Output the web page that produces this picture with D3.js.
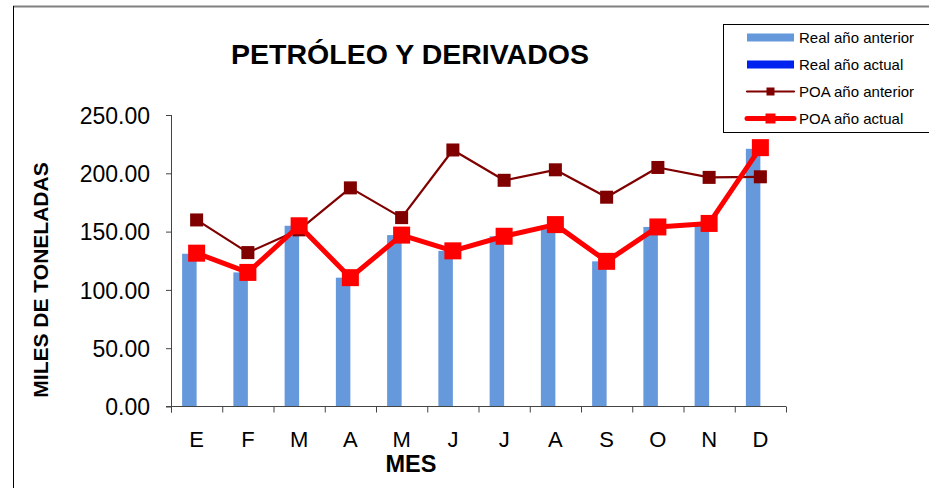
<!DOCTYPE html>
<html>
<head>
<meta charset="utf-8">
<script src="https://cdn.jsdelivr.net/npm/d3@7"></script>
<style>
  body { margin: 0; background: #fff; }
  text { font-family: "Liberation Sans", Arial, sans-serif; fill: #000; }
</style>
</head>
<body>
<svg id="chart"></svg>
<script>
var meses = ['E', 'F', 'M', 'A', 'M', 'J', 'J', 'A', 'S', 'O', 'N', 'D'];
var realAnterior = [131, 115, 155, 110.5, 147, 133.5, 146, 152, 124.5, 154, 155, 221];
var realActual = [null, null, null, null, null, null, null, null, null, null, null, null];
var poaAnterior = [160, 132, 151.5, 187.5, 162, 220, 194, 203, 179.5, 205, 196.5, 197];
var poaActual = [131.5, 115, 155, 110.5, 147, 133.5, 146, 156, 124.5, 154, 157, 222];
var yTicks = [0, 50, 100, 150, 200, 250];
var legendNames = ['Real año anterior', 'Real año actual', 'POA año anterior', 'POA año actual'];

var W = 929, H = 488;
var pLeft = 171, pRight = 786, pTop = 115, pBottom = 406.5;

var svg = d3.select('#chart').attr('width', W).attr('height', H);

// outer frame
svg.append('line').attr('x1', 13).attr('x2', W).attr('y1', 6.5).attr('y2', 6.5)
   .attr('stroke', '#808080').attr('stroke-width', 2);
svg.append('line').attr('x1', 13.5).attr('x2', 13.5).attr('y1', 6).attr('y2', H)
   .attr('stroke', '#000').attr('stroke-width', 1);

var idx = d3.range(meses.length);
var x = d3.scaleBand().domain(idx).range([pLeft, pRight]);
var bw = x.bandwidth();
var x1 = d3.scaleBand().domain(['anterior', 'actual']).range([bw / 2 - 14.5, bw / 2 + 14.5]);
var y = d3.scaleLinear().domain([0, 250]).range([pBottom, pTop]);

// bars
svg.append('g').selectAll('rect')
   .data(realAnterior)
   .enter()
   .append('rect')
     .attr('x', function(d, i){ return x(i) + x1('anterior') })
     .attr('width', x1.bandwidth())
     .attr('y', function(d){ return y(d) })
     .attr('height', function(d){ return y(0) - y(d) })
     .attr('fill', '#6699DB');

svg.append('g').selectAll('rect')
   .data(realActual.filter(function(d){ return d != null }))
   .enter()
   .append('rect')
     .attr('fill', '#0022EE');

// axes
var yAxis = svg.append('g')
   .attr('transform', 'translate(' + pLeft + ',0)')
   .call(d3.axisLeft(y).tickValues(yTicks).tickFormat(d3.format('.2f')).tickSize(5).tickPadding(16));
yAxis.select('.domain').attr('stroke', '#444').attr('d', 'M0.5,' + pTop + 'V' + (pBottom + 6));
yAxis.selectAll('.tick line').attr('stroke', '#444');
yAxis.selectAll('.tick text').style('font-size', '23px').attr('dy', '0.36em');

var xAxis = svg.append('g').attr('transform', 'translate(0,' + pBottom + ')');
xAxis.append('line').attr('x1', pLeft - 5).attr('x2', pRight).attr('stroke', '#444');
xAxis.selectAll('line.tk')
   .data(idx.concat([meses.length]))
   .enter()
   .append('line')
     .attr('class', 'tk')
     .attr('x1', function(i){ return (i < meses.length ? x(i) : pRight) + 0.5 })
     .attr('x2', function(i){ return (i < meses.length ? x(i) : pRight) + 0.5 })
     .attr('y1', 0).attr('y2', 6)
     .attr('stroke', '#444');
xAxis.selectAll('text')
   .data(meses)
   .enter()
   .append('text')
     .attr('x', function(d, i){ return x(i) + bw / 2 })
     .attr('y', 40)
     .attr('text-anchor', 'middle')
     .style('font-size', '22px')
     .text(function(d){ return d });

// lines
function drawSeries(data, color, lw, ms){
  var line = d3.line()
    .x(function(d, i){ return x(i) + bw / 2 })
    .y(function(d){ return y(d) });
  var g = svg.append('g');
  g.append('path').datum(data)
   .attr('d', line)
   .attr('fill', 'none')
   .attr('stroke', color)
   .attr('stroke-width', lw)
   .attr('stroke-linejoin', 'round');
  g.selectAll('rect')
   .data(data)
   .enter()
   .append('rect')
     .attr('x', function(d, i){ return x(i) + bw / 2 - ms / 2 })
     .attr('y', function(d){ return y(d) - ms / 2 })
     .attr('width', ms).attr('height', ms)
     .attr('fill', color);
}
drawSeries(poaAnterior, '#800000', 2.2, 13);
drawSeries(poaActual, '#FF0000', 5, 17);

// titles
svg.append('text').attr('x', 410).attr('y', 64).attr('text-anchor', 'middle')
   .style('font-size', '28.5px').style('font-weight', 'bold').text('PETRÓLEO Y DERIVADOS');
svg.append('text').attr('x', 411).attr('y', 472).attr('text-anchor', 'middle')
   .style('font-size', '23.5px').style('font-weight', 'bold').text('MES');
svg.append('text').attr('transform', 'translate(48,280) rotate(-90)').attr('text-anchor', 'middle')
   .style('font-size', '21px').style('font-weight', 'bold').text('MILES DE TONELADAS');

// legend
var lg = svg.append('g');
lg.append('rect').attr('x', 723.5).attr('y', 24.5).attr('width', 210).attr('height', 108)
  .attr('fill', '#fff').attr('stroke', '#000');
var rowsY = [37.5, 64.5, 91.5, 118.5];
var items = lg.selectAll('g.item')
  .data(legendNames)
  .enter()
  .append('g')
    .attr('transform', function(d, i){ return 'translate(0,' + rowsY[i] + ')' });
items.each(function(d, i){
  var g = d3.select(this);
  if (i < 2) {
    g.append('rect').attr('x', 747).attr('y', -4).attr('width', 47).attr('height', 8)
     .attr('fill', i == 0 ? '#6699DB' : '#0022EE');
  } else {
    var lw = i == 2 ? 2.2 : 5, ms = i == 2 ? 8 : 10, c = i == 2 ? '#800000' : '#FF0000';
    g.append('line').attr('x1', 747).attr('x2', 794).attr('stroke', c).attr('stroke-width', lw)
     .attr('stroke-linecap', 'round');
    g.append('rect').attr('x', 770.5 - ms / 2).attr('y', -ms / 2).attr('width', ms).attr('height', ms).attr('fill', c);
  }
  g.append('text').attr('x', 799).attr('y', 5.5).style('font-size', '15px').text(d);
});
</script>
</body>
</html>
